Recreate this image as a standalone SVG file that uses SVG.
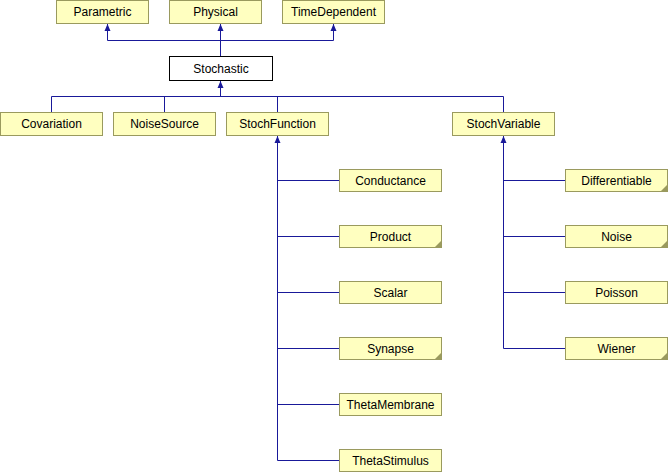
<svg xmlns="http://www.w3.org/2000/svg" width="668" height="472" viewBox="0 0 668 472">
<style>
.n rect{fill:#ffffc0;stroke:#9a9a5e;stroke-width:1}
.r rect{fill:#ffffff;stroke:#000000;stroke-width:1}
text{font-family:"Liberation Sans",Arial,sans-serif;font-size:12px;text-anchor:middle;fill:#000}
.e path{fill:none;stroke:#191999;stroke-width:1}
.a{fill:#191999;stroke:none}
.f{fill:#9a9a5e}
</style>
<defs>
<path id="ah" class="a" d="M-3,7 L0,0 L3,7 Z"/>
<path id="fold" class="f" d="M0,0 L0,-6 L-6,0 Z"/>
</defs>
<g class="e" id="connectors">
<path d="M107.5,24 V40.5 H333.5 V24 M220.5,24 V56"/>
<path d="M220.5,81 V96.5 M51.5,96.5 H503.5 M51.5,96.5 V112 M164.5,96.5 V112 M277.5,96.5 V112 M503.5,96.5 V112"/>
<path d="M277.5,136 V460.5 M277.5,180.5 H339 M277.5,236.5 H339 M277.5,292.5 H339 M277.5,348.5 H339 M277.5,404.5 H339 M277.5,460.5 H339"/>
<path d="M503.5,136 V348.5 M503.5,180.5 H565 M503.5,236.5 H565 M503.5,292.5 H565 M503.5,348.5 H565"/>
<use href="#ah" x="107.5" y="24"/>
<use href="#ah" x="220.5" y="24"/>
<use href="#ah" x="333.5" y="24"/>
<use href="#ah" x="220.5" y="81"/>
<use href="#ah" x="277.5" y="136"/>
<use href="#ah" x="503.5" y="136"/>
</g>
<g class="n" id="Parametric"><rect x="56.5" y="0.5" width="92" height="23"/><text x="102.5" y="16">Parametric</text></g>
<g class="n" id="Physical"><rect x="169.5" y="0.5" width="92" height="23"/><text x="215.5" y="16">Physical</text></g>
<g class="n" id="TimeDependent"><rect x="282.5" y="0.5" width="102" height="23"/><text x="333.5" y="16">TimeDependent</text></g>
<g class="r" id="Stochastic"><rect x="169.5" y="56.5" width="103" height="24"/><text x="221" y="72.5">Stochastic</text></g>
<g class="n" id="Covariation"><rect x="0.5" y="112.5" width="102" height="23"/><text x="51.5" y="128">Covariation</text></g>
<g class="n" id="NoiseSource"><rect x="113.5" y="112.5" width="102" height="23"/><text x="164.5" y="128">NoiseSource</text></g>
<g class="n" id="StochFunction"><rect x="226.5" y="112.5" width="102" height="23"/><text x="277.5" y="128">StochFunction</text></g>
<g class="n" id="StochVariable"><rect x="452.5" y="112.5" width="102" height="23"/><text x="503.5" y="128">StochVariable</text></g>
<g class="n" id="Conductance"><rect x="339.5" y="169.5" width="102" height="22"/><text x="390.5" y="184.5">Conductance</text></g>
<g class="n" id="Product"><rect x="339.5" y="225.5" width="102" height="22"/><use href="#fold" x="441" y="247"/><text x="390.5" y="240.5">Product</text></g>
<g class="n" id="Scalar"><rect x="339.5" y="281.5" width="102" height="22"/><text x="390.5" y="296.5">Scalar</text></g>
<g class="n" id="Synapse"><rect x="339.5" y="337.5" width="102" height="22"/><use href="#fold" x="441" y="359"/><text x="390.5" y="352.5">Synapse</text></g>
<g class="n" id="ThetaMembrane"><rect x="339.5" y="393.5" width="102" height="22"/><text x="390.5" y="408.5">ThetaMembrane</text></g>
<g class="n" id="ThetaStimulus"><rect x="339.5" y="449.5" width="102" height="22"/><text x="390.5" y="464.5">ThetaStimulus</text></g>
<g class="n" id="Differentiable"><rect x="565.5" y="169.5" width="102" height="22"/><use href="#fold" x="667" y="191"/><text x="616.5" y="184.5">Differentiable</text></g>
<g class="n" id="Noise"><rect x="565.5" y="225.5" width="102" height="22"/><use href="#fold" x="667" y="247"/><text x="616.5" y="240.5">Noise</text></g>
<g class="n" id="Poisson"><rect x="565.5" y="281.5" width="102" height="22"/><text x="616.5" y="296.5">Poisson</text></g>
<g class="n" id="Wiener"><rect x="565.5" y="337.5" width="102" height="22"/><use href="#fold" x="667" y="359"/><text x="616.5" y="352.5">Wiener</text></g>
</svg>
